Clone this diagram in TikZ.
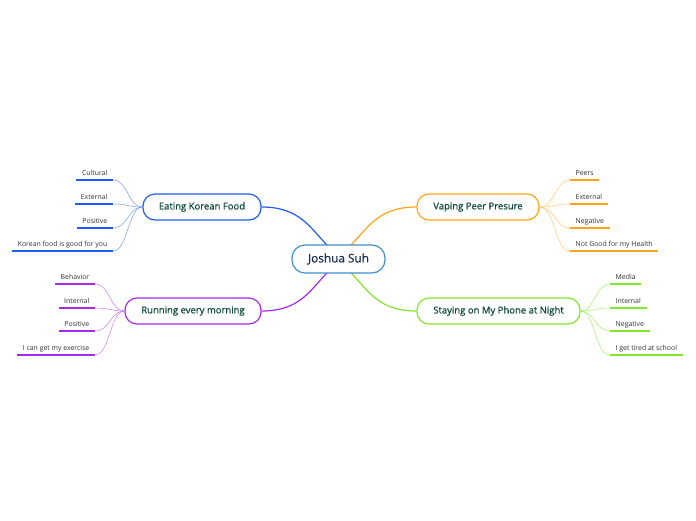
\documentclass[tikz,border=0pt]{standalone}
\usepackage{fontspec}
\setmainfont{Open Sans}
\newfontfamily\topicfont{Open Sans}[FakeBold=0.6]
\definecolor{cblue}{HTML}{1F5CF2}
\definecolor{corange}{HTML}{FFA31A}
\definecolor{cpurple}{HTML}{A52AF0}
\definecolor{cgreen}{HTML}{84E52A}
\definecolor{ccentral}{HTML}{3F8FD2}
\definecolor{ctext}{HTML}{0E4A3C}
\definecolor{cctext}{HTML}{1A2B55}
\definecolor{cleaf}{HTML}{333333}
\tikzset{
  topic/.style={draw, line width=1.2pt, rounded corners=12pt, minimum height=26pt,
    inner sep=0pt, text=ctext, font=\topicfont\fontsize{9.5}{11}\selectfont, fill=white},
  central/.style={draw=ccentral, line width=1.2pt, rounded corners=13pt, minimum height=28pt,
    minimum width=93pt, inner sep=0pt, text=cctext, font=\topicfont\fontsize{11.8}{13}\selectfont, fill=white},
  leaf/.style={inner xsep=5.5pt, inner ysep=2.8pt, text height=5.3pt, text depth=1.5pt,
    text=cleaf, font=\fontsize{6.9}{8}\selectfont},
  uline/.style={line width=2pt},
  twig/.style={line width=0.5pt},
  branch/.style={line width=1.2pt}
}
\begin{document}
\begin{tikzpicture}[x=1pt,y=-1pt]
\useasboundingbox[fill=white] (0,0) rectangle (696,520);

% junction points on the central topic
\coordinate (cnw) at (327,245);
\coordinate (cne) at (351,245);
\coordinate (csw) at (327,273);
\coordinate (cse) at (351,273);

\node[topic, draw=cblue, minimum width=118pt] (eat) at (202,207) {Eating Korean Food};
\node[topic, draw=corange, minimum width=122pt] (vap) at (478,207) {Vaping Peer Presure};
\node[topic, draw=cpurple, minimum width=136pt] (run) at (193,311) {Running every morning};
\node[topic, draw=cgreen, minimum width=163pt] (pho) at (498.5,311) {Staying on My Phone at Night};

\draw[branch, cblue] (eat.east) .. controls (300,207) and (310,228) .. (cnw);
\draw[branch, corange] (vap.west) .. controls (378,207) and (368,228) .. (cne);
\draw[branch, cpurple] (run.east) .. controls (300,311) and (310,290) .. (csw);
\draw[branch, cgreen] (pho.west) .. controls (378,311) and (368,290) .. (cse);

\node[central] (c) at (338.5,259) {Joshua Suh};

% Eating Korean Food leaves
\node[leaf, anchor=south east] (e1) at (113,180) {Cultural};
\node[leaf, anchor=south east] (e2) at (113,204) {External};
\node[leaf, anchor=south east] (e3) at (113,228) {Positive};
\node[leaf, anchor=south east] (e4) at (113,251) {Korean food is good for you};
\foreach \n in {e1,e2,e3,e4}{
  \draw[uline, cblue] (\n.south west) -- (\n.south east);
  \draw[twig, cblue!60] (eat.west) .. controls (128,207) and (128,0|-\n.south east) .. (\n.south east);
}

% Vaping leaves
\node[leaf, anchor=south west] (v1) at (570,180) {Peers};
\node[leaf, anchor=south west] (v2) at (570,204) {External};
\node[leaf, anchor=south west] (v3) at (570,228) {Negative};
\node[leaf, anchor=south west] (v4) at (570,251) {Not Good for my Health};
\foreach \n in {v1,v2,v3,v4}{
  \draw[uline, corange] (\n.south west) -- (\n.south east);
  \draw[twig, corange!60] (vap.east) .. controls (555,207) and (555,0|-\n.south west) .. (\n.south west);
}

% Running leaves
\node[leaf, anchor=south east] (r1) at (95,284) {Behavior};
\node[leaf, anchor=south east] (r2) at (95,308) {Internal};
\node[leaf, anchor=south east] (r3) at (95,331) {Positive};
\node[leaf, anchor=south east] (r4) at (95,355) {I can get my exercise};
\foreach \n in {r1,r2,r3,r4}{
  \draw[uline, cpurple] (\n.south west) -- (\n.south east);
  \draw[twig, cpurple!60] (run.west) .. controls (110,311) and (110,0|-\n.south east) .. (\n.south east);
}

% Phone leaves
\node[leaf, anchor=south west] (p1) at (610,284) {Media};
\node[leaf, anchor=south west] (p2) at (610,308) {Internal};
\node[leaf, anchor=south west] (p3) at (610,331) {Negative};
\node[leaf, anchor=south west] (p4) at (610,355) {I get tired at school};
\foreach \n in {p1,p2,p3,p4}{
  \draw[uline, cgreen] (\n.south west) -- (\n.south east);
  \draw[twig, cgreen!70] (pho.east) .. controls (595,311) and (595,0|-\n.south west) .. (\n.south west);
}
\end{tikzpicture}
\end{document}
